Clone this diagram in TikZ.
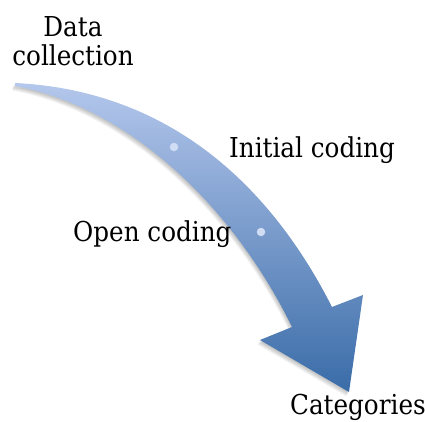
\documentclass[tikz,border=0pt]{standalone}
\usepackage{fontspec}
\setmainfont{DejaVu Serif Condensed}
\definecolor{arrowtop}{RGB}{180,199,236}
\definecolor{arrowbot}{RGB}{58,108,168}
\definecolor{dotfill}{RGB}{208,221,245}
\tikzset{
  label text/.style={font=\fontsize{27.5}{29}\selectfont, inner sep=0pt, text=black},
  stepdot/.style={circle, fill=dotfill, minimum size=8.5bp, inner sep=0pt},
  soft shadow/.style={fill=black, opacity=0.045},
}
% outline of the curved process arrow
\def\arrowoutline{(15,83) .. controls (160,90) and (265,175) .. (332,307)
    -- (363,295) -- (349,392) -- (260,340) -- (292,327)
    .. controls (240,220) and (140,110) .. (15,86) -- cycle}
\begin{document}
\begin{tikzpicture}[x=1bp,y=-1bp]
  \useasboundingbox (0,0) rectangle (425,422);
  % layered soft shadow, offset down and to the left
  \foreach \s in {1,...,6}
    \fill[soft shadow, shift={(-0.45*\s,0.75*\s)}] \arrowoutline;
  % curved process arrow
  \shade[top color=arrowtop, bottom color=arrowbot] \arrowoutline;
  % stage markers along the arrow
  \node[stepdot] (d1) at (174,147) {};
  \node[stepdot] (d2) at (261,232) {};
  % stage labels
  \node[label text, align=center, anchor=base] (data) at (73,65) {Data\\collection};
  \node[label text, anchor=base west] (init) at (229,157) {Initial coding};
  \node[label text, anchor=base west] (open) at (73,241) {Open coding};
  \node[label text, anchor=base west] (cat) at (290,414) {Categories};
\end{tikzpicture}
\end{document}
